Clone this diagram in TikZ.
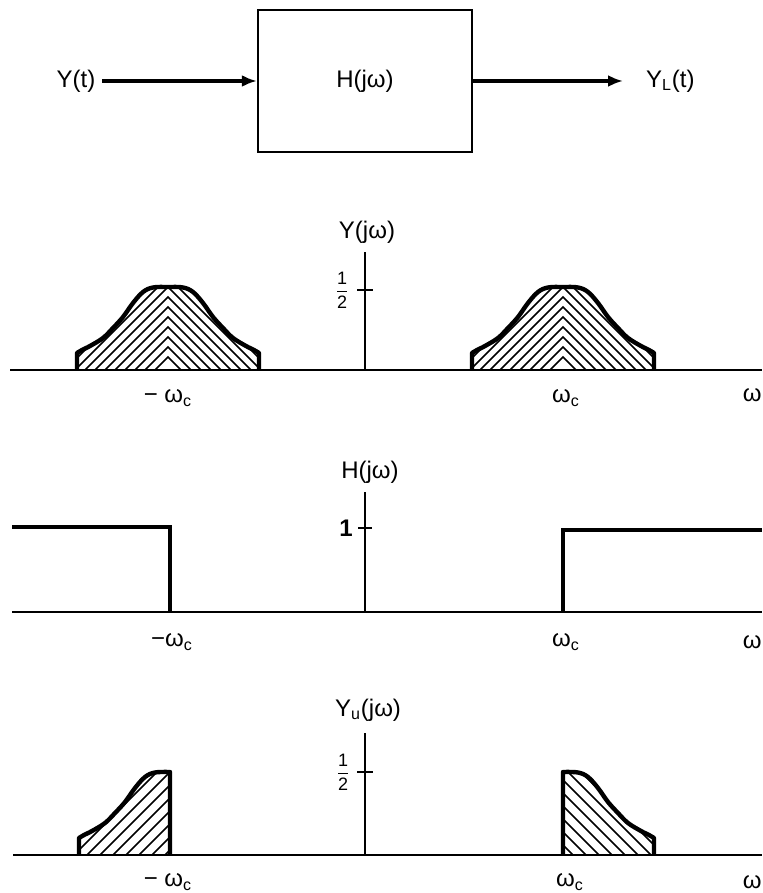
\documentclass[tikz,border=0pt]{standalone}
\usepackage{amsmath}
\usepackage{fontspec}
\setmainfont{Liberation Sans}
\usetikzlibrary{arrows.meta,positioning}

% outline of one band around its centre, baseline at y=0
\newcommand{\bandfull}{(-91,0) -- plot[smooth, tension=0.6] coordinates {(-91,-17) (-86,-20) (-78,-24) (-65,-32) (-55,-42) (-45,-53) (-35,-67) (-25,-78) (-15,-82.5) (0,-83) (15,-82.5) (25,-78) (35,-67) (45,-53) (55,-42) (65,-32) (78,-24) (86,-20) (91,-17)} -- (91,0)}
\newcommand{\bandleft}{(-91,0) -- plot[smooth, tension=0.6] coordinates {(-91,-17) (-86,-20) (-78,-24) (-65,-32) (-55,-42) (-45,-53) (-35,-67) (-25,-78) (-15,-82.5) (0,-83)} -- (0,0)}
\newcommand{\bandright}{(91,0) -- plot[smooth, tension=0.6] coordinates {(91,-17) (86,-20) (78,-24) (65,-32) (55,-42) (45,-53) (35,-67) (25,-78) (15,-82.5) (0,-83)} -- (0,0)}
\newcommand{\halfval}{{\fontsize{9}{10}\selectfont$\dfrac{\text{1}}{\text{2}}$}}

\begin{document}
\begin{tikzpicture}[x=0.5pt, y=-0.5pt, every node/.style={font=\fontsize{12}{14}\selectfont},
  axis/.style={line width=0.9pt},
  curve/.style={line width=2.2pt, line join=round},
  hatch/.style={line width=0.8pt},
  tick/.style={line width=0.9pt},
  signal/.style={-{Latex[length=7.5pt,width=6pt]}, line width=2pt}]

\useasboundingbox (0,0) rectangle (762,893);

% block diagram
\node[draw, line width=1.2pt, minimum width=107pt, minimum height=71pt] (filter) at (365,81) {H(jω)};
\node (input) at (76,81) {Y(t)};
\node[anchor=west] (output) at (639,81) {Y\textsubscript{L}(t)};
\draw[signal] (input) -- (filter);
\draw[signal, shorten >=8pt] (filter) -- (output);

% input spectrum
\draw[axis] (10,370) -- (762,370);
\draw[axis] (365,252) -- (365,370);
\draw[tick] (357,290) -- (373,290);
\node (Ylab) at (367,232) {Y(jω)};
\node (Yhalf) at (342,290) {\halfval};
\foreach \cx in {168, 563} {
  \begin{scope}[shift={(\cx,370)}]
    \begin{scope}
      \clip \bandfull -- cycle;
      \foreach \k in {13,23,...,183}
        \draw[hatch] (-120,120-\k) -- (0,-\k) -- (120,120-\k);
    \end{scope}
    \draw[curve] \bandfull;
  \end{scope}
}
\node (wcYL) at (168,398) {− ω\textsubscript{c}};
\node (wcYR) at (566,398) {ω\textsubscript{c}};
\node[anchor=east, inner sep=0pt] (wY) at (762,395) {ω};

% filter response
\draw[axis] (12,612) -- (762,612);
\draw[axis] (365,492) -- (365,612);
\draw[tick] (358,528) -- (372,528);
\node (Hlab) at (370,472) {H(jω)};
\node (Hone) at (346,528) {\bfseries 1};
\draw[curve, line join=miter] (12,527) -- (170,527) -- (170,612);
\draw[curve, line join=miter] (563,612) -- (563,530) -- (762,530);
\node (wcHL) at (172,642) {−ω\textsubscript{c}};
\node (wcHR) at (566,642) {ω\textsubscript{c}};
\node[anchor=east, inner sep=0pt] (wH) at (762,642) {ω};

% output spectrum
\draw[axis] (13,855) -- (762,855);
\draw[axis] (365,733) -- (365,855);
\draw[tick] (357,772) -- (373,772);
\node (Yulab) at (368,710) {Y\textsubscript{u}(jω)};
\node (Yuhalf) at (343,772) {\halfval};
\begin{scope}[shift={(170,855)}]
  \begin{scope}
    \clip \bandleft -- cycle;
    \foreach \k in {-200,-187,...,0}
      \draw[hatch] (\k,0) -- (\k+130,-130);
  \end{scope}
  \draw[curve] \bandleft;
\end{scope}
\begin{scope}[shift={(563,855)}]
  \begin{scope}
    \clip \bandright -- cycle;
    \foreach \k in {10,23,...,210}
      \draw[hatch] (\k,0) -- (\k-130,-130);
  \end{scope}
  \draw[curve] \bandright;
\end{scope}
\node (wcUL) at (168,882) {− ω\textsubscript{c}};
\node (wcUR) at (570,882) {ω\textsubscript{c}};
\node[anchor=east, inner sep=0pt] (wU) at (762,882) {ω};
\end{tikzpicture}
\end{document}
